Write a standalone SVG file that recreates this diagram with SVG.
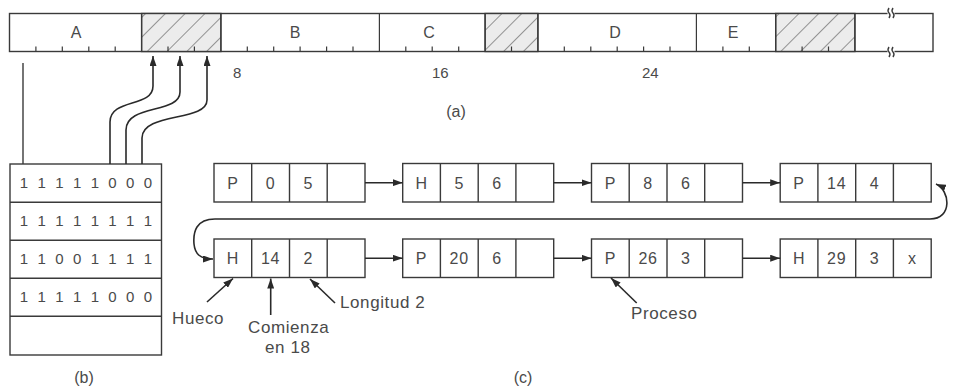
<svg xmlns="http://www.w3.org/2000/svg" width="956" height="392" viewBox="0 0 956 392">
<style>
text{font-family:"Liberation Sans",Arial,sans-serif;fill:#4a4a4a}
.ln{stroke:#3a3a3a;stroke-width:1.4;fill:none}
.box{stroke:#3a3a3a;stroke-width:1.4;fill:#fff}
.hat{stroke:#3a3a3a;stroke-width:1.4;fill:url(#hatch)}
.tk{stroke:#3a3a3a;stroke-width:1.2}
.cell{font-size:16px;text-anchor:middle;letter-spacing:0.8px}
.bit{font-size:15px;text-anchor:middle}
.seg{font-size:16px;text-anchor:middle}
.ann{font-size:17px;letter-spacing:0.6px}
.cap{font-size:16px;text-anchor:middle}
.arr{stroke:#2a2a2a;stroke-width:1.6;fill:none;marker-end:url(#ah)}
</style>
<defs>
<pattern id="hatch" width="14" height="14" patternUnits="userSpaceOnUse" patternTransform="rotate(45)">
<rect width="14" height="14" fill="#ececec"/>
<line x1="0" y1="0" x2="0" y2="14" stroke="#555" stroke-width="1.2"/>
</pattern>
<marker id="ah" viewBox="0 0 10 7" refX="10" refY="3.5" markerWidth="10" markerHeight="7" markerUnits="userSpaceOnUse" orient="auto-start-reverse">
<path d="M0,0 L10,3.5 L0,7 z" fill="#2a2a2a"/>
</marker>
</defs>
<rect width="956" height="392" fill="#fff"/>

<g id="bar">
<rect x="9.5" y="13.5" width="923.5" height="38" class="box"/>
<rect x="141.6" y="13.5" width="79.3" height="38" class="hat"/>
<rect x="485.1" y="13.5" width="52.8" height="38" class="hat"/>
<rect x="775.7" y="13.5" width="79.2" height="38" class="hat"/>
<g class="tk">
<line x1="141.6" y1="13.5" x2="141.6" y2="51.5"/>
<line x1="220.9" y1="13.5" x2="220.9" y2="51.5"/>
<line x1="379.4" y1="13.5" x2="379.4" y2="51.5"/>
<line x1="485.1" y1="13.5" x2="485.1" y2="51.5"/>
<line x1="537.9" y1="13.5" x2="537.9" y2="51.5"/>
<line x1="696.4" y1="13.5" x2="696.4" y2="51.5"/>
<line x1="775.7" y1="13.5" x2="775.7" y2="51.5"/>
<line x1="854.9" y1="13.5" x2="854.9" y2="51.5"/>
<path d="M35.9,51.5v-5M62.3,51.5v-5M88.8,51.5v-5M115.2,51.5v-5M168,51.5v-5M194.4,51.5v-5M247.3,51.5v-5M273.7,51.5v-5M300.1,51.5v-5M326.6,51.5v-5M353,51.5v-5M405.8,51.5v-5M432.2,51.5v-5M458.7,51.5v-5M511.5,51.5v-5M564.3,51.5v-5M590.8,51.5v-5M617.2,51.5v-5M643.6,51.5v-5M670,51.5v-5M722.9,51.5v-5M749.3,51.5v-5M802.1,51.5v-5M828.5,51.5v-5"/>
</g>
<rect x="887.5" y="8" width="7" height="10" fill="#fff"/>
<rect x="887.5" y="47" width="7" height="10" fill="#fff"/>
<path class="ln" d="M889,8 q-2,3 0,5 q2,2 0,5 M893,8 q-2,3 0,5 q2,2 0,5 M889,47 q-2,3 0,5 q2,2 0,5 M893,47 q-2,3 0,5 q2,2 0,5"/>
<text class="seg" x="76" y="38">A</text>
<text class="seg" x="295" y="38">B</text>
<text class="seg" x="429" y="38">C</text>
<text class="seg" x="615" y="38">D</text>
<text class="seg" x="733" y="38">E</text>
<text x="233" y="78" font-size="15">8</text>
<text x="432" y="78" font-size="15">16</text>
<text x="642" y="78" font-size="15">24</text>
<text class="cap" x="456" y="117">(a)</text>
</g>

<g id="bitmap">
<rect x="10" y="164" width="151.5" height="191" class="box"/>
<path class="ln" d="M10,202.3H161.5M10,240.3H161.5M10,278.3H161.5M10,316.3H161.5"/>
<g class="bit">
<text x="24" y="188">1</text><text x="41.7" y="188">1</text><text x="59.4" y="188">1</text><text x="77.1" y="188">1</text><text x="94.8" y="188">1</text><text x="112.5" y="188">0</text><text x="130.2" y="188">0</text><text x="147.9" y="188">0</text>
<text x="24" y="226">1</text><text x="41.7" y="226">1</text><text x="59.4" y="226">1</text><text x="77.1" y="226">1</text><text x="94.8" y="226">1</text><text x="112.5" y="226">1</text><text x="130.2" y="226">1</text><text x="147.9" y="226">1</text>
<text x="24" y="264">1</text><text x="41.7" y="264">1</text><text x="59.4" y="264">0</text><text x="77.1" y="264">0</text><text x="94.8" y="264">1</text><text x="112.5" y="264">1</text><text x="130.2" y="264">1</text><text x="147.9" y="264">1</text>
<text x="24" y="302">1</text><text x="41.7" y="302">1</text><text x="59.4" y="302">1</text><text x="77.1" y="302">1</text><text x="94.8" y="302">1</text><text x="112.5" y="302">0</text><text x="130.2" y="302">0</text><text x="147.9" y="302">0</text>
</g>
<text class="cap" x="84" y="383">(b)</text>
</g>

<g id="n1">
<rect x="214" y="163.5" width="151" height="38.5" class="box"/>
<path class="ln" d="M251.7,163.5v38.5M289.5,163.5v38.5M327.2,163.5v38.5"/>
<text class="cell" x="233" y="188.5">P</text><text class="cell" x="270.6" y="188.5">0</text><text class="cell" x="308.4" y="188.5">5</text>
</g>
<g id="n2">
<rect x="402.7" y="163.5" width="151" height="38.5" class="box"/>
<path class="ln" d="M440.4,163.5v38.5M478.2,163.5v38.5M515.9,163.5v38.5"/>
<text class="cell" x="421.6" y="188.5">H</text><text class="cell" x="459.3" y="188.5">5</text><text class="cell" x="497.1" y="188.5">6</text>
</g>
<g id="n3">
<rect x="591.5" y="163.5" width="151" height="38.5" class="box"/>
<path class="ln" d="M629.2,163.5v38.5M667,163.5v38.5M704.7,163.5v38.5"/>
<text class="cell" x="610.4" y="188.5">P</text><text class="cell" x="648.1" y="188.5">8</text><text class="cell" x="685.9" y="188.5">6</text>
</g>
<g id="n4">
<rect x="780.2" y="163.5" width="151" height="38.5" class="box"/>
<path class="ln" d="M817.9,163.5v38.5M855.7,163.5v38.5M893.4,163.5v38.5"/>
<text class="cell" x="799.1" y="188.5">P</text><text class="cell" x="836.8" y="188.5">14</text><text class="cell" x="874.6" y="188.5">4</text>
</g>
<g id="n5">
<rect x="214" y="239" width="151" height="38.5" class="box"/>
<path class="ln" d="M251.7,239v38.5M289.5,239v38.5M327.2,239v38.5"/>
<text class="cell" x="233" y="264">H</text><text class="cell" x="270.6" y="264">14</text><text class="cell" x="308.4" y="264">2</text>
</g>
<g id="n6">
<rect x="402.7" y="239" width="151" height="38.5" class="box"/>
<path class="ln" d="M440.4,239v38.5M478.2,239v38.5M515.9,239v38.5"/>
<text class="cell" x="421.6" y="264">P</text><text class="cell" x="459.3" y="264">20</text><text class="cell" x="497.1" y="264">6</text>
</g>
<g id="n7">
<rect x="591.5" y="239" width="151" height="38.5" class="box"/>
<path class="ln" d="M629.2,239v38.5M667,239v38.5M704.7,239v38.5"/>
<text class="cell" x="610.4" y="264">P</text><text class="cell" x="648.1" y="264">26</text><text class="cell" x="685.9" y="264">3</text>
</g>
<g id="n8">
<rect x="780.2" y="239" width="151" height="38.5" class="box"/>
<path class="ln" d="M817.9,239v38.5M855.7,239v38.5M893.4,239v38.5"/>
<text class="cell" x="799.1" y="264">H</text><text class="cell" x="836.8" y="264">29</text><text class="cell" x="874.6" y="264">3</text><text class="cell" x="912.3" y="264">x</text>
</g>

<g id="connectors">
<line x1="23" y1="63" x2="23" y2="164" class="ln"/>
<path class="arr" d="M110,164 V122 C110,98 153,108 153,86 V56"/>
<path class="arr" d="M126,164 V130 C126,104 180,114 180,92 V56"/>
<path class="arr" d="M142,164 V138 C142,112 207,122 207,100 V56"/>
<line class="arr" x1="365" y1="182.7" x2="402.7" y2="182.7"/>
<line class="arr" x1="553.7" y1="182.7" x2="591.5" y2="182.7"/>
<line class="arr" x1="742.5" y1="182.7" x2="780.2" y2="182.7"/>
<line class="arr" x1="365" y1="258.2" x2="402.7" y2="258.2"/>
<line class="arr" x1="553.7" y1="258.2" x2="591.5" y2="258.2"/>
<line class="arr" x1="742.5" y1="258.2" x2="780.2" y2="258.2"/>
<path class="arr" style="marker-start:url(#ah)" d="M936,184 C950,190 953,219 930,219 L215,219 C196,219 193,232 194,244 C195,254 200,259 213,259"/>
<line class="arr" x1="207" y1="302" x2="233" y2="278.5"/>
<line class="arr" x1="270.7" y1="315" x2="270.7" y2="278.5"/>
<line class="arr" x1="335" y1="303" x2="310" y2="279"/>
<line class="arr" x1="636.7" y1="303" x2="611" y2="278"/>
</g>

<g id="labels">
<text class="ann" x="172" y="324">Hueco</text>
<text class="ann" x="248" y="333">Comienza</text>
<text class="ann" x="265" y="353">en 18</text>
<text class="ann" x="340" y="308">Longitud 2</text>
<text class="ann" x="631" y="319">Proceso</text>
<text class="cap" x="523" y="383">(c)</text>
</g>
</svg>
